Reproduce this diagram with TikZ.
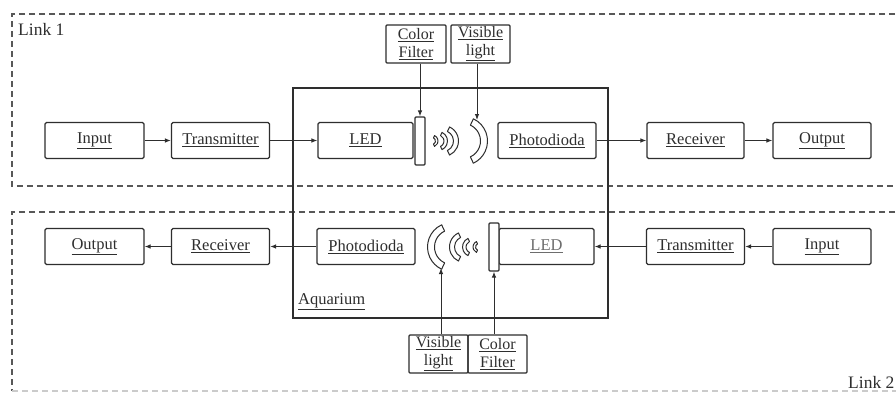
\documentclass[tikz,border=0pt]{standalone}
\usepackage{fontspec}
\setmainfont{Liberation Serif}
\usetikzlibrary{arrows.meta}
\definecolor{ink}{HTML}{2E2E2E}
\begin{document}
\begin{tikzpicture}[x=1pt,y=-1pt,
  blk/.style={draw=ink,line width=1.1pt,rounded corners=1.5pt,minimum height=36pt,inner sep=0pt,text=ink,font=\fontsize{16.5}{18}\selectfont},
  sml/.style={draw=ink,line width=1.1pt,rounded corners=1pt,minimum width=59pt,minimum height=38pt,inner sep=0pt,align=center,text=ink,font=\fontsize{16}{18}\selectfont},
  bar/.style={draw=ink,line width=1.1pt,rounded corners=1pt,minimum width=10pt,minimum height=48pt,inner sep=0pt,fill=white},
  arr/.style={draw=ink,line width=1pt,-{Latex[length=6pt,width=4.5pt]}},
  wave/.style={draw=ink,line width=1pt,line join=round},
  lnk/.style={draw=ink!80,line width=1.4pt,dash pattern=on 6pt off 4pt},
  lbl/.style={text=ink,inner sep=0pt,font=\fontsize{17.5}{19}\selectfont}]
\clip (0,0) rectangle (896,394);
\fill[white] (0,0) rectangle (896,394);
% link boxes
\draw[lnk] (905,14) -- (12,14) -- (12,186) -- (905,186);
\draw[lnk] (905,212) -- (12,212) -- (12,391);
\draw[lnk,draw=ink!25] (12,391) -- (905,391);
\node[lbl,anchor=west] (l1) at (18,29) {Link 1};
\node[lbl,anchor=west] (l2) at (848,382) {Link 2};
% aquarium
\draw[draw=ink,line width=1.3pt] (293,88) rectangle (608,318);
\node[lbl,anchor=west,font=\fontsize{16.5}{18}\selectfont] (aq) at (298,302) {\underline{Aquarium}};
% top row
\node[blk,minimum width=99pt] (in1) at (94.5,140.5) {\underline{Input}};
\node[blk,minimum width=98pt] (tx1) at (220.5,140.5) {\underline{Transmitter}};
\node[blk,minimum width=95pt] (led1) at (365.5,140.5) {\underline{LED}};
\node[bar] (f1) at (420,141) {};
\node[blk,minimum width=98pt] (pd1) at (547,140.5) {\underline{Photodioda}};
\node[blk,minimum width=97pt] (rx1) at (695.5,140.5) {\underline{Receiver}};
\node[blk,minimum width=98pt] (out1) at (822,140.5) {\underline{Output}};
\node[sml,minimum width=60pt] (cf1) at (416,44) {\underline{Color}\\\underline{Filter}};
\node[sml] (vl1) at (480.5,44) {\underline{Visible}\\\underline{light}};
% top waves (bulging right)
\foreach \cx/\R/\r in {432/6/3.5, 438/9.5/6, 443/15.5/10.5, 463/24.5/17.5}{
  \draw[wave] ([shift={(-65:\R)}]\cx,141) arc[start angle=-65,end angle=65,radius=\R]
    -- ([shift={(65:\r)}]\cx,141) arc[start angle=65,end angle=-65,radius=\r] -- cycle;
}
\coordinate (w1) at (477,120);
% bottom row
\node[blk,minimum width=99pt] (out2) at (94.5,246.5) {\underline{Output}};
\node[blk,minimum width=98pt] (rx2) at (220.5,246.5) {\underline{Receiver}};
\node[blk,minimum width=98pt] (pd2) at (366,246.5) {\underline{Photodioda}};
\node[blk,minimum width=95pt,text=ink!70] (led2) at (546.5,246.5) {\underline{LED}};
\node[bar] (f2) at (494,247) {};
\node[blk,minimum width=98pt] (tx2) at (695.5,246.5) {\underline{Transmitter}};
\node[blk,minimum width=98pt] (in2) at (822,246.5) {\underline{Input}};
\node[sml] (vl2) at (438.5,354) {\underline{Visible}\\\underline{light}};
\node[sml] (cf2) at (497.5,354) {\underline{Color}\\\underline{Filter}};
% bottom waves (bulging left)
\foreach \cx/\R/\r in {479/6/3.5, 472/9.5/6, 465/15.5/10.5, 452/24.5/17.5}{
  \draw[wave] ([shift={(245:\R)}]\cx,247) arc[start angle=245,end angle=115,radius=\R]
    -- ([shift={(115:\r)}]\cx,247) arc[start angle=115,end angle=245,radius=\r] -- cycle;
}
\coordinate (w2) at (441,268);
% connectors top
\draw[arr] (in1) -- (tx1);
\draw[arr] (tx1) -- (led1);
\draw[arr] (pd1) -- (rx1);
\draw[arr] (rx1) -- (out1);
\draw[arr] (cf1.south -| f1.north) -- (f1.north);
\draw[arr] (vl1.south -| w1) -- (w1);
% connectors bottom
\draw[arr] (in2) -- (tx2);
\draw[arr] (tx2) -- (led2);
\draw[arr] (pd2) -- (rx2);
\draw[arr] (rx2) -- (out2);
\draw[arr] (cf2.north -| f2.south) -- (f2.south);
\draw[arr] (vl2.north -| w2) -- (w2);
\end{tikzpicture}
\end{document}
